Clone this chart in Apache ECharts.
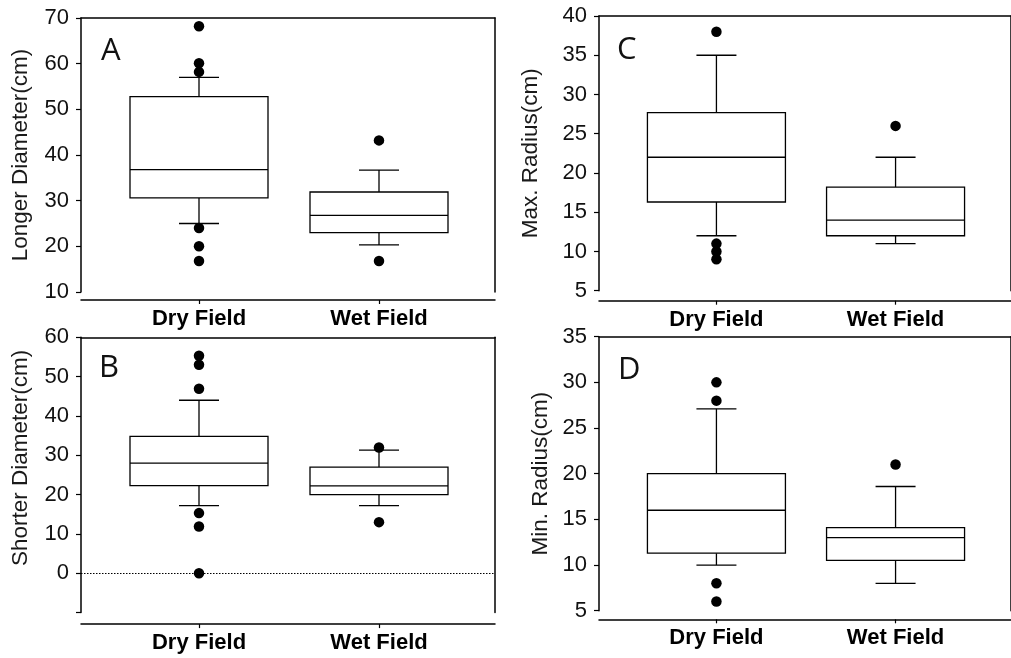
<!DOCTYPE html>
<html>
<head>
<meta charset="utf-8">
<script src="https://cdn.jsdelivr.net/npm/echarts@6/dist/echarts.min.js"></script>
<style>
  html, body { margin: 0; padding: 0; background: #fff; }
  #chart { width: 1011px; height: 658px; }
</style>
</head>
<body>
<div id="chart"></div>
<script>
// ---------------- data ----------------
const categories = ['Dry Field', 'Wet Field'];
// each box: [lower whisker, Q1, median, Q3, upper whisker]
const longerDry = [25, 30.6, 36.8, 52.8, 57];
const longerWet = [20.3, 23, 26.8, 31.9, 36.7];
const longerOutDry = [68.2, 60.1, 58.2, 24, 20, 16.8];
const longerOutWet = [43.2, 16.8];

const shorterDry = [17.2, 22.3, 28, 34.8, 44];
const shorterWet = [17.2, 20, 22.2, 27, 31.3];
const shorterOutDry = [55.3, 53, 46.9, 15.3, 11.9, 0];
const shorterOutWet = [32, 13];

const maxRDry = [12, 16.3, 22, 27.7, 35];
const maxRWet = [11, 12, 14, 18.2, 22];
const maxROutDry = [38, 11, 10, 9];
const maxROutWet = [26];

const minRDry = [10, 11.3, 16, 20, 27.1];
const minRWet = [8, 10.5, 13, 14.1, 18.6];
const minROutDry = [30, 28, 8, 6];
const minROutWet = [21];

const panelLetters = ['A', 'B', 'C', 'D'];
const yTitles = ['Longer Diameter(cm)', 'Shorter Diameter(cm)', 'Max. Radius(cm)', 'Min. Radius(cm)'];
const yRanges = [[10, 70, 10], [-10, 60, 10], [5, 40, 5], [5, 35, 5]];
const hiddenTickLabels = [[], [-10], [], []];
const refLines = [[], [0], [], []];

// ---------------- layout ----------------
const layout = [
  { left: 81, top: 18, height: 274, xOffset: 8, nameGap: 49, namePad: 0, letter: [96, 31] },
  { left: 81, top: 337.3, height: 275.3, xOffset: 11.5, nameGap: 49, namePad: 34, letter: [94, 348] },
  { left: 599, top: 16, height: 274.7, xOffset: 10, nameGap: 57, namePad: 0, letter: [612, 30] },
  { left: 599, top: 336.7, height: 274, xOffset: 8.6, nameGap: 47, namePad: 0, letter: [613, 350] }
];
const GRID_W = 414;
const X_MIN = -118 / 180, X_MAX = X_MIN + GRID_W / 180;
const BOX_HALF = 69, CAP_HALF = 20;

const boxes = [
  [longerDry, longerWet],
  [shorterDry, shorterWet],
  [maxRDry, maxRWet],
  [minRDry, minRWet]
];
const outliers = [
  [longerOutDry, longerOutWet],
  [shorterOutDry, shorterOutWet],
  [maxROutDry, maxROutWet],
  [minROutDry, minROutWet]
];

const FONT = 'Liberation Sans, Arial, sans-serif';
const BLACK = '#000';

const grid = [], xAxis = [], yAxis = [], series = [], title = [];

function renderBox(params, api) {
  const x = api.value(0);
  const lo = api.coord([x, api.value(1)]);
  const q1 = api.coord([x, api.value(2)]);
  const md = api.coord([x, api.value(3)]);
  const q3 = api.coord([x, api.value(4)]);
  const hi = api.coord([x, api.value(5)]);
  const st = { stroke: BLACK, lineWidth: 1.3, fill: null };
  const cx = lo[0];
  return {
    type: 'group',
    children: [
      { type: 'line', shape: { x1: cx, y1: lo[1], x2: cx, y2: q1[1] }, style: st },
      { type: 'line', shape: { x1: cx, y1: q3[1], x2: cx, y2: hi[1] }, style: st },
      { type: 'line', shape: { x1: cx - CAP_HALF, y1: lo[1], x2: cx + CAP_HALF, y2: lo[1] }, style: st },
      { type: 'line', shape: { x1: cx - CAP_HALF, y1: hi[1], x2: cx + CAP_HALF, y2: hi[1] }, style: st },
      { type: 'rect', shape: { x: cx - BOX_HALF, y: q3[1], width: 2 * BOX_HALF, height: q1[1] - q3[1] },
        style: { stroke: BLACK, lineWidth: 1.3, fill: '#fff' } },
      { type: 'line', shape: { x1: cx - BOX_HALF, y1: md[1], x2: cx + BOX_HALF, y2: md[1] }, style: st }
    ]
  };
}

for (let p = 0; p < 4; p++) {
  const L = layout[p];
  grid.push({ left: L.left, top: L.top, width: GRID_W, height: L.height, containLabel: false });
  xAxis.push({
    gridIndex: p, type: 'value', min: X_MIN, max: X_MAX, position: 'bottom', offset: L.xOffset,
    axisLine: { show: true, onZero: false, lineStyle: { color: BLACK, width: 1.5 } },
    axisTick: { show: true, customValues: [0, 1], length: 4, lineStyle: { color: BLACK, width: 1.2 } },
    axisLabel: {
      show: true, customValues: [0, 1], margin: 8,
      formatter: v => categories[Math.round(v)] || '',
      color: BLACK, fontFamily: FONT, fontWeight: 'bold', fontSize: 22
    },
    splitLine: { show: false }
  });
  xAxis.push({
    gridIndex: p, type: 'value', min: X_MIN, max: X_MAX, position: 'top',
    axisLine: { show: true, onZero: false, lineStyle: { color: BLACK, width: 1.5 } },
    axisTick: { show: false }, axisLabel: { show: false }, splitLine: { show: false }
  });
  const [ymin, ymax, yint] = yRanges[p];
  yAxis.push({
    gridIndex: p, type: 'value', min: ymin, max: ymax, interval: yint, position: 'left',
    name: yTitles[p], nameLocation: 'middle', nameGap: L.nameGap, nameRotate: 90,
    nameTextStyle: { fontFamily: FONT, fontSize: 22.5, color: '#1a1a1a', padding: [0, 0, 0, L.namePad] },
    axisLine: { show: true, onZero: false, lineStyle: { color: BLACK, width: 1.5 } },
    axisTick: { show: true, length: 5, lineStyle: { color: BLACK, width: 1.2 } },
    axisLabel: {
      show: true, margin: 12, color: '#111', fontFamily: FONT, fontSize: 22,
      formatter: v => hiddenTickLabels[p].includes(v) ? '' : String(v)
    },
    splitLine: { show: false }
  });
  yAxis.push({
    gridIndex: p, type: 'value', min: ymin, max: ymax, interval: yint, position: 'right',
    axisLine: { show: true, onZero: false, lineStyle: { color: BLACK, width: 1.5 } },
    axisTick: { show: false }, axisLabel: { show: false }, splitLine: { show: false }
  });

  const xi = p * 2, yi = p * 2;
  const boxData = boxes[p].map((b, i) => [i].concat(b));
  series.push({
    type: 'custom', xAxisIndex: xi, yAxisIndex: yi, renderItem: renderBox,
    data: boxData, clip: false, silent: true, z: 2,
    markLine: refLines[p].length ? {
      silent: true, symbol: ['none', 'none'], label: { show: false },
      lineStyle: { color: BLACK, type: [1.5, 1.5], width: 1, opacity: 1 },
      data: refLines[p].map(v => ({ yAxis: v }))
    } : undefined
  });
  const outData = [];
  outliers[p].forEach((arr, i) => arr.forEach(v => outData.push([i, v])));
  series.push({
    type: 'scatter', xAxisIndex: xi, yAxisIndex: yi, data: outData,
    symbol: 'circle', symbolSize: 10.5, itemStyle: { color: BLACK, opacity: 1 }, z: 5, silent: true
  });

  title.push({
    text: panelLetters[p], left: L.letter[0], top: L.letter[1],
    textStyle: { fontFamily: 'Open Sans, DejaVu Sans, sans-serif', fontWeight: 'normal', fontSize: 31, color: '#111' }
  });
}

const chart = echarts.init(document.getElementById('chart'), null, { renderer: 'canvas' });
chart.setOption({
  animation: false,
  backgroundColor: '#fff',
  title, grid, xAxis, yAxis, series
});
</script>
</body>
</html>
